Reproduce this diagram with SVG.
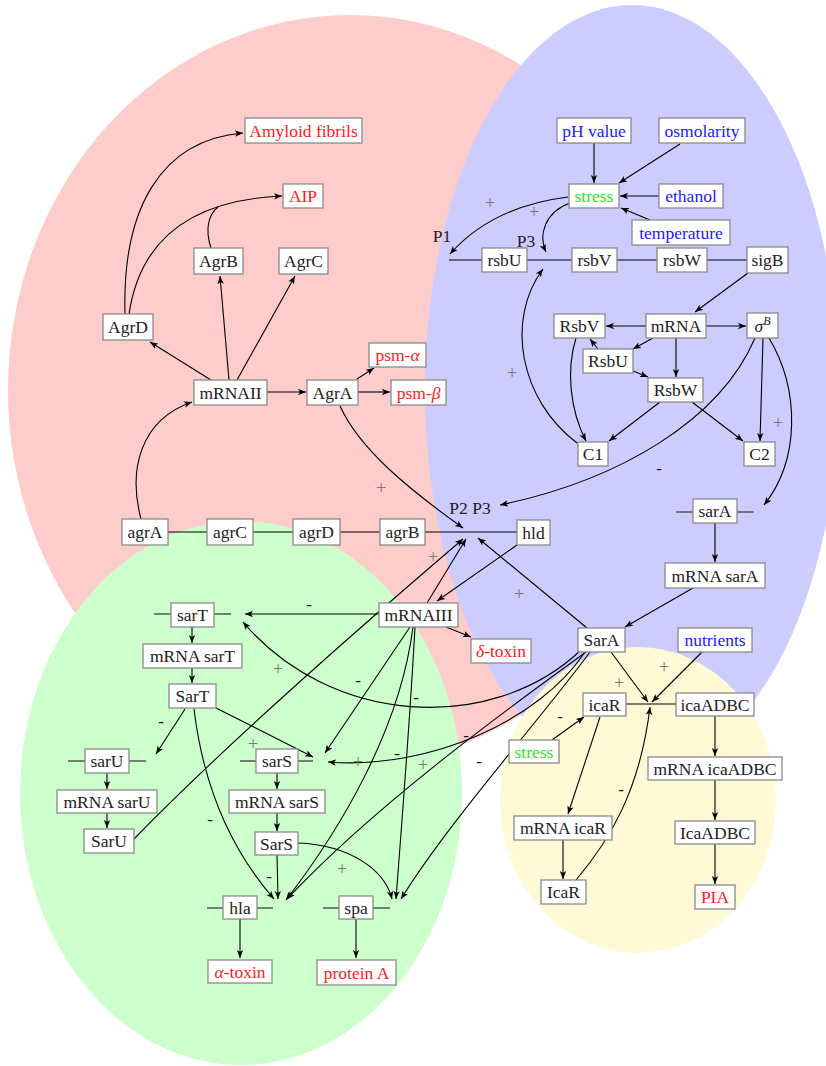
<svg xmlns="http://www.w3.org/2000/svg" width="826" height="1066" viewBox="0 0 826 1066">
<defs>
<marker id="ah" markerUnits="userSpaceOnUse" markerWidth="9" markerHeight="8" refX="8" refY="4" orient="auto">
<path d="M0,0.8 L8,4 L0,7.2 L2,4 z" fill="#000"/>
</marker>
<style>
.bg{stroke:none}
.n rect{fill:#fff;stroke:#8a8a8a;stroke-width:1.3}
.n text,.lb{font-family:"Liberation Serif","DejaVu Serif",serif;font-size:17.5px;text-anchor:middle;fill:#222}
.n text.r{fill:#ff1a1a}
.n text.b{fill:#1a1aff}
.n text.g{fill:#1aee1a}
.c path{fill:none;stroke:#000;stroke-width:1.1}
.c path.a{marker-end:url(#ah)}
.c path.s{stroke:#555;stroke-width:1.5}
.pl{font-family:"Liberation Serif","DejaVu Serif",serif;font-size:18px;text-anchor:middle;fill:#777}
.mi{font-family:"Liberation Serif","DejaVu Serif",serif;font-size:17px;text-anchor:middle;fill:#111}
.it{font-style:italic}
</style>
</defs>
<g id="regions">
<ellipse class="bg" cx="350" cy="390" rx="342" ry="375" fill="#FFCCCC"/>
<ellipse class="bg" cx="632" cy="390" rx="207" ry="385" fill="#CCCCFF"/>
<ellipse class="bg" cx="241" cy="793" rx="221" ry="272" fill="#CCFFCC"/>
<ellipse class="bg" cx="638" cy="800" rx="138" ry="153" fill="#FFF9D6"/>
</g>
<g id="connectors" class="c">
<path class="a" d="M125,314 C122,210 160,140 243,133"/>
<path class="a" d="M129,314 C140,240 190,200 282,196"/>
<path d="M211,248 C205,230 208,215 218,207"/>
<path class="a" d="M211,380 L150,342"/>
<path class="a" d="M229,380 L220,276"/>
<path class="a" d="M237,380 L295,276"/>
<path class="a" d="M267,392 L306,392"/>
<path class="a" d="M357,379 L374,368"/>
<path class="a" d="M358,392 L390,392"/>
<path class="a" d="M141,519 C128,470 140,420 192,402"/>
<path class="a" d="M340,406 C360,450 410,490 463,528"/>
<path d="M168,532 L517,532"/>
<path class="a" d="M517,545 L437,601"/>
<path class="a" d="M427,603 L466,539"/>
<path class="a" d="M133,840 C230,740 380,610 463,539"/>
<path class="a" d="M587,628 L478,538"/>
<path class="a" d="M446,627 L471,637"/>
<path class="a" d="M379,614 L245,614"/>
<path class="a" d="M410,627 L325,753"/>
<path class="a" d="M413,627 C400,730 340,830 286,900"/>
<path class="a" d="M415,627 C410,720 402,820 396,899"/>
<path class="a" d="M580,651 C490,735 330,725 243,622"/>
<path class="a" d="M585,652 C540,720 430,770 328,762"/>
<path class="a" d="M586,652 C520,700 380,800 287,899"/>
<path class="a" d="M590,652 C540,720 450,820 401,899"/>
<path class="a" d="M611,652 L648,702"/>
<path class="a" d="M702,652 L652,702"/>
<path d="M626,704 L676,704"/>
<path class="a" d="M576,880 C610,840 640,790 650,707"/>
<path class="a" d="M552,740 L584,717"/>
<path class="a" d="M600,717 L568,814"/>
<path class="a" d="M563,840 L563,879"/>
<path class="a" d="M715,716 L715,756"/>
<path class="a" d="M715,780 L715,820"/>
<path class="a" d="M715,844 L715,884"/>
<path class="a" d="M594,143 L594,183"/>
<path class="a" d="M680,144 L619,183"/>
<path class="a" d="M659,196 L620,196"/>
<path class="a" d="M650,220 L621,208"/>
<path class="a" d="M568,197 C520,203 480,220 450,254"/>
<path class="a" d="M570,203 C545,212 538,235 546,252"/>
<path d="M449,260 L747,260"/>
<path class="a" d="M748,273 L695,312"/>
<path class="a" d="M646,326 L606,326"/>
<path class="a" d="M706,326 L746,326"/>
<path class="a" d="M653,338 L633,349"/>
<path class="a" d="M676,338 L676,377"/>
<path class="a" d="M598,349 L590,339"/>
<path class="a" d="M633,371 L648,377"/>
<path class="a" d="M576,338 C566,370 570,410 586,441"/>
<path class="a" d="M660,402 L609,441"/>
<path class="a" d="M692,402 L743,441"/>
<path class="a" d="M763,338 L760,441"/>
<path class="a" d="M769,338 C800,390 800,460 764,505"/>
<path class="a" d="M755,338 C720,420 620,480 500,505"/>
<path class="a" d="M577,443 C520,400 505,320 543,269"/>
<path class="a" d="M715,523 L715,562"/>
<path class="a" d="M693,588 L625,627"/>
<path class="s" d="M676,512 L693,512 M737,512 L754,512"/>
<path class="s" d="M154,614 L171,614 M214,614 L231,614"/>
<path class="a" d="M192,627 L192,643"/>
<path class="a" d="M192,668 L192,683"/>
<path class="a" d="M185,709 L156,754"/>
<path class="a" d="M216,708 L313,757"/>
<path class="a" d="M194,709 C205,800 240,860 274,899"/>
<path class="s" d="M68,761 L85,761 M129,761 L146,761"/>
<path class="a" d="M107,773 L107,789"/>
<path class="a" d="M107,813 L107,828"/>
<path class="s" d="M240,761 L256,761 M298,761 L313,761"/>
<path class="a" d="M277,773 L277,789"/>
<path class="a" d="M277,813 L277,831"/>
<path class="a" d="M277,855 L278,899"/>
<path class="a" d="M298,843 C350,845 385,870 392,899"/>
<path class="s" d="M207,908 L223,908 M257,908 L273,908"/>
<path class="s" d="M323,908 L339,908 M373,908 L390,908"/>
<path class="a" d="M240,919 L240,958"/>
<path class="a" d="M356,919 L356,958"/>
</g>
<g id="signs">
<text class="pl" x="490" y="209">+</text>
<text class="pl" x="534" y="218">+</text>
<text class="pl" x="512" y="379">+</text>
<text class="pl" x="778" y="429">+</text>
<text class="pl" x="381" y="494">+</text>
<text class="pl" x="433" y="563">+</text>
<text class="pl" x="519" y="600">+</text>
<text class="pl" x="664" y="673">+</text>
<text class="pl" x="619" y="689" font-size="15">+</text>
<text class="pl" x="278" y="675">+</text>
<text class="pl" x="253" y="750">+</text>
<text class="pl" x="358" y="768">+</text>
<text class="pl" x="423" y="771">+</text>
<text class="pl" x="342" y="875">+</text>
<text class="mi" x="659" y="474">-</text>
<text class="mi" x="309" y="610">-</text>
<text class="mi" x="161" y="727">-</text>
<text class="mi" x="358" y="686">-</text>
<text class="mi" x="416" y="703">-</text>
<text class="mi" x="466" y="741">-</text>
<text class="mi" x="397" y="759">-</text>
<text class="mi" x="479" y="767">-</text>
<text class="mi" x="560" y="722">-</text>
<text class="mi" x="621" y="795">-</text>
<text class="mi" x="210" y="825">-</text>
<text class="mi" x="269" y="882">-</text>
<text class="lb" x="442" y="242">P1</text>
<text class="lb" x="526" y="247">P3</text>
<text class="lb" x="470" y="514">P2 P3</text>
</g>
<g id="n-amyloid" class="n"><rect x="245" y="118" width="117" height="25"/><text class="r" x="303.5" y="136.5">Amyloid fibrils</text></g>
<g id="n-aip" class="n"><rect x="283" y="184" width="40" height="24"/><text class="r" x="303" y="202">AIP</text></g>
<g id="n-AgrB" class="n"><rect x="194" y="248" width="49" height="26"/><text x="218.5" y="267">AgrB</text></g>
<g id="n-AgrC" class="n"><rect x="279" y="248" width="49" height="26"/><text x="303.5" y="267">AgrC</text></g>
<g id="n-AgrD" class="n"><rect x="103" y="314" width="50" height="26"/><text x="128" y="333">AgrD</text></g>
<g id="n-mRNAII" class="n"><rect x="194" y="380" width="73" height="25"/><text x="230.5" y="398.5">mRNAII</text></g>
<g id="n-AgrA" class="n"><rect x="307" y="380" width="51" height="25"/><text x="332.5" y="398.5">AgrA</text></g>
<g id="n-psma" class="n"><rect x="369" y="343" width="57" height="24"/><text class="r" x="397.5" y="361">psm-<tspan class="it">α</tspan></text></g>
<g id="n-psmb" class="n"><rect x="391" y="380" width="55" height="25"/><text class="r" x="418.5" y="398.5">psm-<tspan class="it">β</tspan></text></g>
<g id="n-agrA" class="n"><rect x="122" y="519" width="46" height="26"/><text x="145" y="538">agrA</text></g>
<g id="n-agrC" class="n"><rect x="207" y="519" width="46" height="26"/><text x="230" y="538">agrC</text></g>
<g id="n-agrD" class="n"><rect x="293" y="519" width="47" height="26"/><text x="316.5" y="538">agrD</text></g>
<g id="n-agrB" class="n"><rect x="380" y="519" width="45" height="26"/><text x="402.5" y="538">agrB</text></g>
<g id="n-hld" class="n"><rect x="517" y="520" width="33" height="25"/><text x="533.5" y="538.5">hld</text></g>
<g id="n-mRNAIII" class="n"><rect x="379" y="603" width="79" height="24"/><text x="418.5" y="621">mRNAIII</text></g>
<g id="n-dtoxin" class="n"><rect x="471" y="639" width="60" height="24"/><text class="r" x="501" y="657"><tspan class="it">δ</tspan>-toxin</text></g>
<g id="n-ph" class="n"><rect x="557" y="118" width="74" height="25"/><text class="b" x="594" y="136.5">pH value</text></g>
<g id="n-osm" class="n"><rect x="659" y="118" width="86" height="25"/><text class="b" x="702" y="136.5">osmolarity</text></g>
<g id="n-stress1" class="n"><rect x="569" y="184" width="50" height="24"/><text class="g" x="594" y="202">stress</text></g>
<g id="n-ethanol" class="n"><rect x="659" y="184" width="64" height="24"/><text class="b" x="691" y="202">ethanol</text></g>
<g id="n-temp" class="n"><rect x="632" y="220" width="98" height="25"/><text class="b" x="681" y="238.5">temperature</text></g>
<g id="n-rsbU" class="n"><rect x="482" y="248" width="45" height="24"/><text x="504.5" y="266">rsbU</text></g>
<g id="n-rsbV" class="n"><rect x="572" y="248" width="45" height="24"/><text x="594.5" y="266">rsbV</text></g>
<g id="n-rsbW" class="n"><rect x="657" y="248" width="50" height="24"/><text x="682" y="266">rsbW</text></g>
<g id="n-sigB" class="n"><rect x="747" y="247" width="41" height="26"/><text x="767.5" y="266">sigB</text></g>
<g id="n-RsbV" class="n"><rect x="554" y="314" width="51" height="24"/><text x="579.5" y="332">RsbV</text></g>
<g id="n-mRNA" class="n"><rect x="646" y="314" width="60" height="24"/><text x="676" y="332">mRNA</text></g>
<g id="n-sigmaB" class="n"><rect x="747" y="313" width="31" height="25"/><text x="762.5" y="332"><tspan class="it">σ</tspan><tspan class="it" font-size="12" dy="-7">B</tspan></text></g>
<g id="n-RsbU" class="n"><rect x="583" y="349" width="50" height="24"/><text x="608" y="367">RsbU</text></g>
<g id="n-RsbW" class="n"><rect x="648" y="378" width="55" height="24"/><text x="675.5" y="396">RsbW</text></g>
<g id="n-C1" class="n"><rect x="578" y="442" width="30" height="24"/><text x="593" y="460">C1</text></g>
<g id="n-C2" class="n"><rect x="744" y="442" width="31" height="24"/><text x="759.5" y="460">C2</text></g>
<g id="n-sarA" class="n"><rect x="693" y="499" width="44" height="24"/><text x="715" y="517">sarA</text></g>
<g id="n-mRNAsarA" class="n"><rect x="665" y="563" width="100" height="25"/><text x="715" y="581.5">mRNA sarA</text></g>
<g id="n-SarA" class="n"><rect x="578" y="628" width="47" height="24"/><text x="601.5" y="646">SarA</text></g>
<g id="n-nutrients" class="n"><rect x="678" y="628" width="74" height="24"/><text class="b" x="715" y="646">nutrients</text></g>
<g id="n-icaR" class="n"><rect x="583" y="693" width="43" height="23"/><text x="604.5" y="710.5">icaR</text></g>
<g id="n-icaADBC" class="n"><rect x="676" y="693" width="78" height="23"/><text x="715" y="710.5">icaADBC</text></g>
<g id="n-stress2" class="n"><rect x="509" y="740" width="50" height="23"/><text class="g" x="534" y="757.5">stress</text></g>
<g id="n-mRNAicaADBC" class="n"><rect x="648" y="757" width="134" height="23"/><text x="715" y="774.5">mRNA icaADBC</text></g>
<g id="n-IcaADBC" class="n"><rect x="675" y="821" width="80" height="23"/><text x="715" y="838.5">IcaADBC</text></g>
<g id="n-mRNAicaR" class="n"><rect x="514" y="816" width="98" height="24"/><text x="563" y="834">mRNA icaR</text></g>
<g id="n-IcaR" class="n"><rect x="541" y="880" width="45" height="24"/><text x="563.5" y="898">IcaR</text></g>
<g id="n-PIA" class="n"><rect x="695" y="885" width="40" height="24"/><text class="r" x="715" y="903">PIA</text></g>
<g id="n-sarT" class="n"><rect x="171" y="603" width="43" height="24"/><text x="192.5" y="621">sarT</text></g>
<g id="n-mRNAsarT" class="n"><rect x="143" y="644" width="99" height="24"/><text x="192.5" y="662">mRNA sarT</text></g>
<g id="n-SarT" class="n"><rect x="169" y="684" width="47" height="24"/><text x="192.5" y="702">SarT</text></g>
<g id="n-sarU" class="n"><rect x="85" y="749" width="44" height="24"/><text x="107" y="767">sarU</text></g>
<g id="n-mRNAsarU" class="n"><rect x="57" y="790" width="100" height="23"/><text x="107" y="807.5">mRNA sarU</text></g>
<g id="n-SarU" class="n"><rect x="84" y="829" width="50" height="24"/><text x="109" y="847">SarU</text></g>
<g id="n-sarS" class="n"><rect x="256" y="749" width="42" height="24"/><text x="277" y="767">sarS</text></g>
<g id="n-mRNAsarS" class="n"><rect x="229" y="790" width="96" height="23"/><text x="277" y="807.5">mRNA sarS</text></g>
<g id="n-SarS" class="n"><rect x="255" y="832" width="43" height="23"/><text x="276.5" y="849.5">SarS</text></g>
<g id="n-hla" class="n"><rect x="223" y="896" width="34" height="23"/><text x="240" y="913.5">hla</text></g>
<g id="n-spa" class="n"><rect x="339" y="896" width="34" height="23"/><text x="356" y="913.5">spa</text></g>
<g id="n-atoxin" class="n"><rect x="208" y="960" width="64" height="23"/><text class="r" x="240" y="977.5"><tspan class="it">α</tspan>-toxin</text></g>
<g id="n-proteinA" class="n"><rect x="317" y="960" width="79" height="25"/><text class="r" x="356.5" y="978.5">protein A</text></g>
</svg>
